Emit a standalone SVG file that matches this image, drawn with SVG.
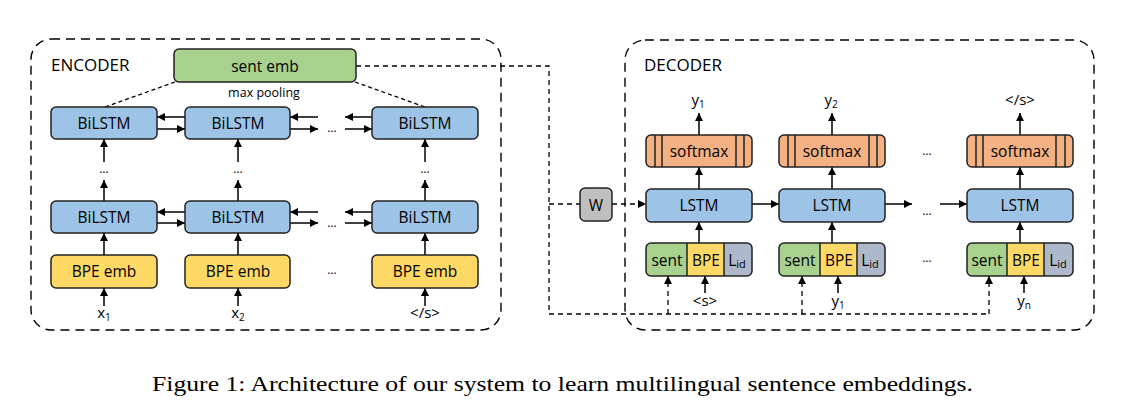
<svg xmlns="http://www.w3.org/2000/svg" width="1140" height="417" viewBox="0 0 1140 417">
<defs>
<marker id="ah" viewBox="0 0 10 10" refX="10" refY="5" markerWidth="8" markerHeight="8" markerUnits="userSpaceOnUse" orient="auto"><path d="M0,0 L10,5 L0,10 z" fill="#000"/></marker>
<style>
.frame{fill:none;stroke:#000;stroke-width:1.4;stroke-dasharray:9,6}
.box{stroke:#222;stroke-width:1.5}
.green{fill:#a9d18e}.blue{fill:#9dc3e6}.yellow{fill:#ffd966}.orange{fill:#f4b183}.gray{fill:#bfbfbf}.lid{fill:#adb9ca}
.t{font-family:"Open Sans","Liberation Sans",sans-serif;font-size:15.5px;fill:#000;text-anchor:middle;dominant-baseline:central}
.lbl{font-family:"Open Sans","Liberation Sans",sans-serif;font-size:17px;fill:#000}
.small{font-family:"Open Sans","Liberation Sans",sans-serif;font-size:12.5px;fill:#000;text-anchor:middle}
.io{font-family:"Open Sans","Liberation Sans",sans-serif;font-size:15px;fill:#000;text-anchor:middle}
.dots{font-family:"Open Sans","Liberation Sans",sans-serif;font-size:12px;fill:#000;text-anchor:middle}
.arr{stroke:#000;stroke-width:1.5;fill:none;marker-end:url(#ah)}
.dash{stroke:#000;stroke-width:1.3;fill:none;stroke-dasharray:5,4}
.dasharr{stroke:#000;stroke-width:1.3;fill:none;stroke-dasharray:5,4;marker-end:url(#ah)}
.cap{font-family:"Liberation Serif","Times New Roman",serif;font-size:21px;fill:#000}
</style>
</defs>
<rect width="1140" height="417" fill="#fff"/>

<!-- frames -->
<g id="encoder-frame">
<rect class="frame" x="31" y="39" width="470" height="291" rx="20"/>
<text class="lbl" x="51" y="71">ENCODER</text>
</g>
<g id="decoder-frame">
<rect class="frame" x="625" y="40" width="469" height="290" rx="20"/>
<text class="lbl" x="644" y="71">DECODER</text>
</g>

<!-- connectors -->
<g id="connectors">
<line class="dash" x1="175" y1="82" x2="105" y2="107" style="stroke-dasharray:4,3"/>
<line class="dash" x1="355" y1="82" x2="425" y2="107" style="stroke-dasharray:4,3"/>
<line class="arr" x1="185" y1="117" x2="157" y2="117"/>
<line class="arr" x1="157" y1="129" x2="185" y2="129"/>
<line class="arr" x1="318" y1="117" x2="290" y2="117"/>
<line class="arr" x1="290" y1="129" x2="318" y2="129"/>
<line class="arr" x1="372" y1="117" x2="345" y2="117"/>
<line class="arr" x1="345" y1="129" x2="372" y2="129"/>
<line class="arr" x1="185" y1="212" x2="157" y2="212"/>
<line class="arr" x1="157" y1="223" x2="185" y2="223"/>
<line class="arr" x1="318" y1="212" x2="290" y2="212"/>
<line class="arr" x1="290" y1="223" x2="318" y2="223"/>
<line class="arr" x1="372" y1="212" x2="345" y2="212"/>
<line class="arr" x1="345" y1="223" x2="372" y2="223"/>
<line class="arr" x1="104" y1="162" x2="104" y2="139"/>
<line class="arr" x1="238" y1="162" x2="238" y2="139"/>
<line class="arr" x1="425" y1="162" x2="425" y2="139"/>
<line class="arr" x1="104" y1="201" x2="104" y2="180"/>
<line class="arr" x1="238" y1="201" x2="238" y2="180"/>
<line class="arr" x1="425" y1="201" x2="425" y2="180"/>
<line class="arr" x1="104" y1="255" x2="104" y2="233"/>
<line class="arr" x1="238" y1="255" x2="238" y2="233"/>
<line class="arr" x1="425" y1="255" x2="425" y2="233"/>
<line class="arr" x1="104" y1="306" x2="104" y2="288"/>
<line class="arr" x1="238" y1="306" x2="238" y2="288"/>
<line class="arr" x1="425" y1="306" x2="425" y2="288"/>
<polyline class="dash" points="356,66 549,66 549,314 989,314"/>
<line class="dash" x1="549" y1="204" x2="580" y2="204"/>
<line class="dasharr" x1="612" y1="204" x2="646" y2="204"/>
<line class="dasharr" x1="668" y1="314" x2="668" y2="276"/>
<line class="dasharr" x1="802" y1="314" x2="802" y2="276"/>
<line class="dasharr" x1="989" y1="314" x2="989" y2="276"/>
<line class="arr" x1="752" y1="204" x2="779" y2="204"/>
<line class="arr" x1="885" y1="204" x2="912" y2="204"/>
<line class="arr" x1="940" y1="204" x2="967" y2="204"/>
<line class="arr" x1="699" y1="243" x2="699" y2="222"/>
<line class="arr" x1="832" y1="243" x2="832" y2="222"/>
<line class="arr" x1="1020" y1="243" x2="1020" y2="222"/>
<line class="arr" x1="699" y1="189" x2="699" y2="167"/>
<line class="arr" x1="832" y1="189" x2="832" y2="167"/>
<line class="arr" x1="1020" y1="189" x2="1020" y2="167"/>
<line class="arr" x1="699" y1="135" x2="699" y2="113"/>
<line class="arr" x1="832" y1="135" x2="832" y2="113"/>
<line class="arr" x1="1020" y1="135" x2="1020" y2="113"/>
<line class="arr" x1="705" y1="293" x2="705" y2="276"/>
<line class="arr" x1="838" y1="293" x2="838" y2="276"/>
<line class="arr" x1="1024" y1="293" x2="1024" y2="276"/>
</g>

<!-- encoder nodes -->
<g id="sent-emb">
<rect class="box green" x="174" y="49" width="182" height="33" rx="5"/>
<text class="t" x="265" y="66">sent emb</text>
<text class="small" x="264" y="97">max pooling</text>
</g>
<g id="bilstm-u1"><rect class="box blue" x="51" y="107" width="106" height="32" rx="5"/><text class="t" x="104" y="123">BiLSTM</text></g>
<g id="bilstm-u2"><rect class="box blue" x="185" y="107" width="105" height="32" rx="5"/><text class="t" x="238" y="123">BiLSTM</text></g>
<g id="bilstm-u3"><rect class="box blue" x="372" y="107" width="106" height="32" rx="5"/><text class="t" x="425" y="123">BiLSTM</text></g>
<g id="bilstm-l1"><rect class="box blue" x="51" y="201" width="106" height="32" rx="5"/><text class="t" x="104" y="217">BiLSTM</text></g>
<g id="bilstm-l2"><rect class="box blue" x="185" y="201" width="105" height="32" rx="5"/><text class="t" x="238" y="217">BiLSTM</text></g>
<g id="bilstm-l3"><rect class="box blue" x="372" y="201" width="106" height="32" rx="5"/><text class="t" x="425" y="217">BiLSTM</text></g>
<g id="bpe-1"><rect class="box yellow" x="51" y="255" width="106" height="33" rx="5"/><text class="t" x="104" y="271">BPE emb</text></g>
<g id="bpe-2"><rect class="box yellow" x="185" y="255" width="105" height="33" rx="5"/><text class="t" x="238" y="271">BPE emb</text></g>
<g id="bpe-3"><rect class="box yellow" x="372" y="255" width="106" height="33" rx="5"/><text class="t" x="425" y="271">BPE emb</text></g>
<g id="enc-labels">
<text class="io" x="104" y="318">x<tspan font-size="10" dy="3">1</tspan></text>
<text class="io" x="238" y="318">x<tspan font-size="10" dy="3">2</tspan></text>
<text class="io" x="425" y="318">&lt;/s&gt;</text>
<text class="dots" x="104" y="173">…</text>
<text class="dots" x="238" y="173">…</text>
<text class="dots" x="425" y="173">…</text>
<text class="dots" x="332" y="132">…</text>
<text class="dots" x="332" y="227">…</text>
<text class="dots" x="332" y="274">…</text>
</g>

<!-- W -->
<g id="w-node"><rect class="box gray" x="580" y="188" width="32" height="33" rx="5"/><text class="t" x="596" y="205">W</text></g>

<!-- decoder nodes -->
<g id="softmax-1">
<rect class="box orange" x="646" y="135" width="106" height="32" rx="5"/>
<path d="M655,135V167M662,135V167M736,135V167M744,135V167" stroke="#222" stroke-width="1.5"/>
<text class="t" x="699" y="151">softmax</text>
</g>
<g id="softmax-2">
<rect class="box orange" x="779" y="135" width="106" height="32" rx="5"/>
<path d="M788,135V167M795,135V167M869,135V167M877,135V167" stroke="#222" stroke-width="1.5"/>
<text class="t" x="832" y="151">softmax</text>
</g>
<g id="softmax-3">
<rect class="box orange" x="967" y="135" width="106" height="32" rx="5"/>
<path d="M976,135V167M983,135V167M1056,135V167M1065,135V167" stroke="#222" stroke-width="1.5"/>
<text class="t" x="1020" y="151">softmax</text>
</g>
<g id="lstm-1"><rect class="box blue" x="646" y="189" width="106" height="33" rx="5"/><text class="t" x="699" y="205">LSTM</text></g>
<g id="lstm-2"><rect class="box blue" x="779" y="189" width="106" height="33" rx="5"/><text class="t" x="832" y="205">LSTM</text></g>
<g id="lstm-3"><rect class="box blue" x="967" y="189" width="106" height="33" rx="5"/><text class="t" x="1020" y="205">LSTM</text></g>

<g id="input-1">
<rect class="lid" x="646" y="243" width="106" height="33" rx="5"/>
<path class="green" d="M651,243H687V276H651A5,5 0 0 1 646,271V248A5,5 0 0 1 651,243z"/>
<rect class="yellow" x="687" y="243" width="37" height="33"/>
<rect x="646" y="243" width="106" height="33" rx="5" fill="none" stroke="#222" stroke-width="1.5"/>
<path d="M687,243V276M724,243V276" stroke="#222" stroke-width="1.5"/>
<text class="t" x="667" y="260">sent</text><text class="t" x="706" y="260">BPE</text>
<text class="t" x="737" y="260">L<tspan font-size="11" dy="3">id</tspan></text>
</g>
<g id="input-2">
<rect class="lid" x="779" y="243" width="106" height="33" rx="5"/>
<path class="green" d="M784,243H820V276H784A5,5 0 0 1 779,271V248A5,5 0 0 1 784,243z"/>
<rect class="yellow" x="820" y="243" width="37" height="33"/>
<rect x="779" y="243" width="106" height="33" rx="5" fill="none" stroke="#222" stroke-width="1.5"/>
<path d="M820,243V276M857,243V276" stroke="#222" stroke-width="1.5"/>
<text class="t" x="800" y="260">sent</text><text class="t" x="839" y="260">BPE</text>
<text class="t" x="870" y="260">L<tspan font-size="11" dy="3">id</tspan></text>
</g>
<g id="input-3">
<rect class="lid" x="967" y="243" width="106" height="33" rx="5"/>
<path class="green" d="M972,243H1007V276H972A5,5 0 0 1 967,271V248A5,5 0 0 1 972,243z"/>
<rect class="yellow" x="1007" y="243" width="37" height="33"/>
<rect x="967" y="243" width="106" height="33" rx="5" fill="none" stroke="#222" stroke-width="1.5"/>
<path d="M1007,243V276M1044,243V276" stroke="#222" stroke-width="1.5"/>
<text class="t" x="987" y="260">sent</text><text class="t" x="1026" y="260">BPE</text>
<text class="t" x="1058" y="260">L<tspan font-size="11" dy="3">id</tspan></text>
</g>

<g id="dec-labels">
<text class="io" x="698" y="105">y<tspan font-size="10" dy="3">1</tspan></text>
<text class="io" x="831" y="105">y<tspan font-size="10" dy="3">2</tspan></text>
<text class="io" x="1020" y="105">&lt;/s&gt;</text>
<text class="io" x="705" y="306">&lt;s&gt;</text>
<text class="io" x="838" y="306">y<tspan font-size="10" dy="3">1</tspan></text>
<text class="io" x="1024" y="306">y<tspan font-size="10" dy="3">n</tspan></text>
<text class="dots" x="927" y="155">…</text>
<text class="dots" x="927" y="215">…</text>
<text class="dots" x="927" y="262">…</text>
</g>

<text class="cap" x="152" y="391" textLength="821" lengthAdjust="spacingAndGlyphs">Figure 1: Architecture of our system to learn multilingual sentence embeddings.</text>
</svg>
